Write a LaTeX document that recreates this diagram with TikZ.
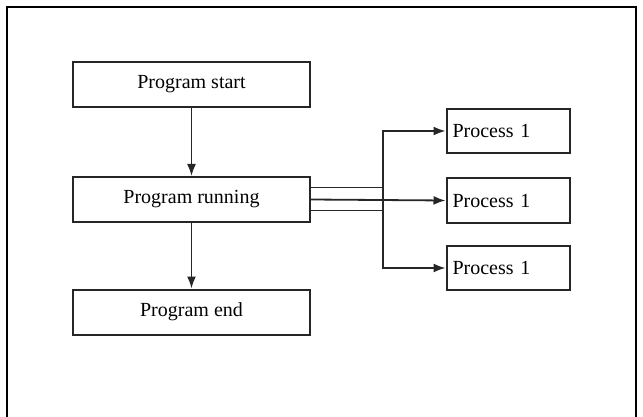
\documentclass[tikz,border=0pt]{standalone}
\usepackage{fontspec}
\setmainfont{Liberation Serif}
\usetikzlibrary{arrows.meta}
\begin{document}
\begin{tikzpicture}[x=1pt,y=-1pt,
  box/.style={draw=black!85,line width=2pt,minimum height=45pt,inner sep=0pt,font=\fontsize{20}{23}\selectfont},
  bigbox/.style={box,minimum width=237pt},
  procbox/.style={box,minimum width=123pt,minimum height=44pt,text width=111pt,align=left},
  conn/.style={draw=black!85,line width=1.8pt,-{Latex[length=12pt,width=9pt]}}]
\useasboundingbox (0,0) rectangle (643,417);
\draw[line width=2.4pt] (7,420) -- (7,7) -- (636,7) -- (636,420);
\node[bigbox] (start) at (191.5,84.5) {Program start};
\node[bigbox] (run) at (191.5,199.5) {Program running};
\node[bigbox] (end) at (191.5,312) {Program end};
\node[procbox] (p1) at (508,131) {Process 1};
\node[procbox] (p2) at (508,200.5) {Process 1};
\node[procbox] (p3) at (508,268) {Process 1};
\draw[conn] (start) -- (run);
\draw[conn] (run) -- (end);
\draw[conn] ([yshift=-11pt]run.east) -| (383,131) -- (p1.west);
\draw[conn] (run.east) -- (p2.west);
\draw[conn] ([yshift=12pt]run.east) -| (383,268) -- (p3.west);
\end{tikzpicture}
\end{document}
